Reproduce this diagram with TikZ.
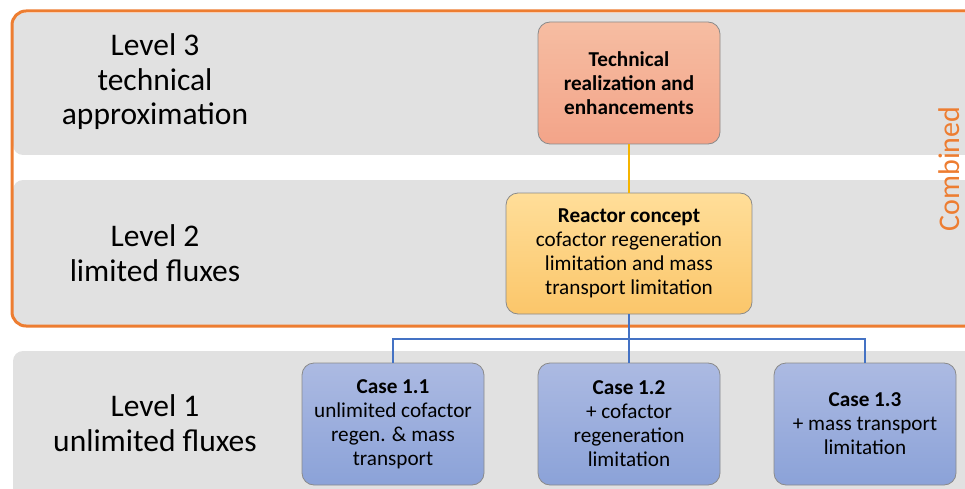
\documentclass[tikz,border=0pt]{standalone}
\usepackage{fontspec}
\setmainfont{Carlito}
\definecolor{bandgray}{HTML}{E1E1E1}
\definecolor{frameorange}{HTML}{ED7D31}
\definecolor{boxborder}{HTML}{8A8A8A}
\definecolor{linkblue}{HTML}{4472C4}
\definecolor{linkyellow}{HTML}{F5B400}
\begin{document}
\begin{tikzpicture}[x=1pt,y=-1pt,
  band/.style={fill=bandgray, rounded corners=10pt},
  leveltext/.style={align=center, font=\fontsize{31.5}{34.5}\selectfont, text=black},
  boxbase/.style={draw=boxborder, line width=0.8pt, rounded corners=12pt, align=center,
    font=\fontsize{21.2}{24}\selectfont, inner sep=2pt},
  techbox/.style={boxbase, top color={rgb,255:red,246;green,189;blue,162}, bottom color={rgb,255:red,243;green,164;blue,137},
    minimum width=182pt, minimum height=122pt},
  reactbox/.style={boxbase, top color={rgb,255:red,255;green,222;blue,153}, bottom color={rgb,255:red,251;green,198;blue,106},
    minimum width=246pt, minimum height=121pt},
  casebox/.style={boxbase, top color={rgb,255:red,172;green,186;blue,226}, bottom color={rgb,255:red,139;green,162;blue,216},
    minimum width=182pt, minimum height=122pt},
  link/.style={line width=1.4pt}
]
\useasboundingbox (0,0) rectangle (965,489);
% gray bands
\fill[band] (13,13) rectangle (975,155);
\fill[band] (13,180) rectangle (975,325);
\fill[band] (13,351) rectangle (975,500);
% orange frame
\draw[frameorange, line width=3pt, rounded corners=14pt] (975,11) -- (12,11) -- (12,326) -- (975,326);
% level labels
\node[leveltext] (l3) at (155,82) {Level 3\\technical\\approximation};
\node[leveltext] (l2) at (155,253) {Level 2\\limited fluxes};
\node[leveltext] (l1) at (155,423) {Level 1\\unlimited fluxes};
% combined
\node[rotate=90, text=frameorange, inner sep=0pt, font=\fontsize{30}{34}\selectfont] (comb) at (949,169) {Combined};
% boxes
\node[techbox, font=\fontsize{21.2}{24}\selectfont\bfseries] (tech) at (629,83) {Technical\\realization and\\enhancements};
\node[reactbox] (react) at (629,253.5) {\textbf{Reactor concept}\\cofactor regeneration\\limitation and mass\\transport limitation};
\node[casebox] (c1) at (393,424) {\textbf{Case 1.1}\\unlimited cofactor\\regen. \& mass\\transport};
\node[casebox] (c2) at (629,424) {\textbf{Case 1.2}\\+ cofactor\\regeneration\\limitation};
\node[casebox] (c3) at (865,424) {\textbf{Case 1.3}\\+ mass transport\\limitation};
% connectors
\draw[link, linkyellow] (tech.south) -- (react.north);
\coordinate (bus) at (629,339);
\draw[link, linkblue] (react.south) -- (c2.north);
\draw[link, linkblue] (c1.north) |- (bus) -| (c3.north);
\end{tikzpicture}
\end{document}
